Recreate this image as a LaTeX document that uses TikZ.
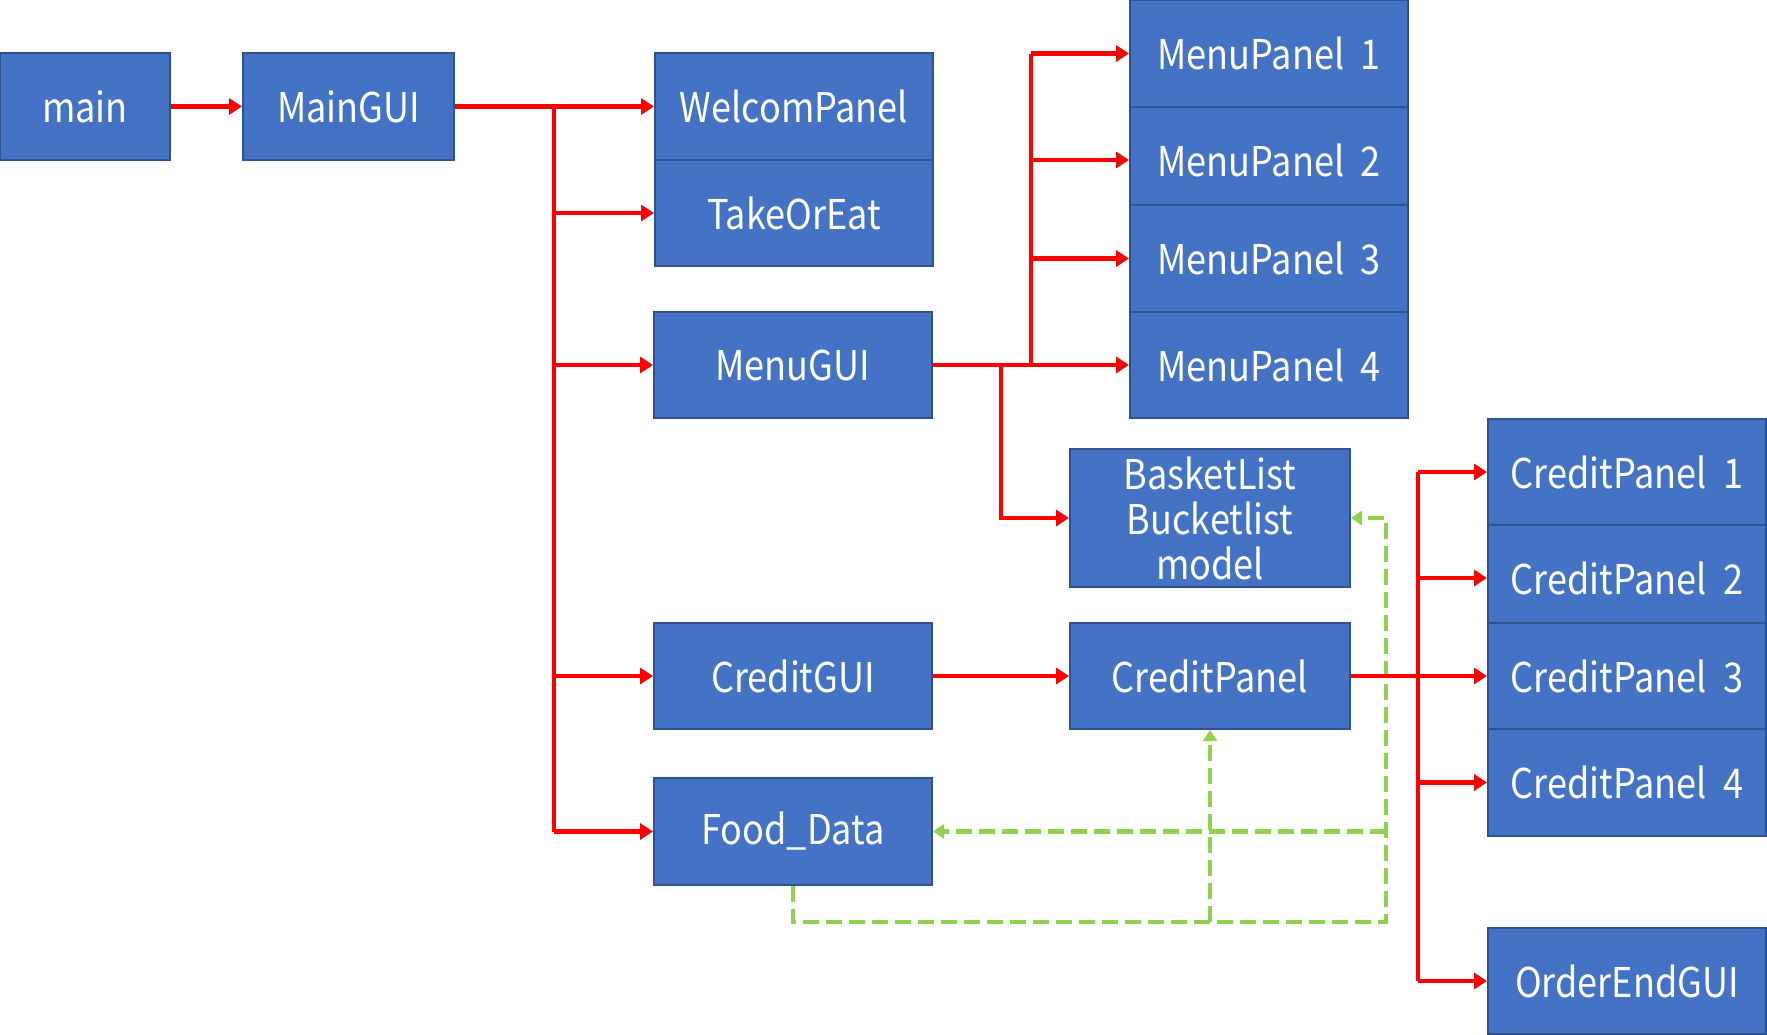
\documentclass[tikz,border=0pt]{standalone}
\usepackage{fontspec}
\setmainfont{Noto Sans CJK KR}[FakeStretch=0.88]
\usetikzlibrary{arrows.meta}
\definecolor{boxfill}{HTML}{4472C4}
\definecolor{boxborder}{HTML}{2F528F}
\definecolor{linkred}{HTML}{FF0000}
\definecolor{linkgreen}{HTML}{92D050}
\tikzset{
  box/.style={draw=boxborder, fill=boxfill, line width=1pt, text=white, inner sep=0pt,
    align=center, font=\fontsize{20.5}{22.5}\selectfont},
  sz/.style 2 args={minimum width=#1*0.5pt, minimum height=#2*0.5pt},
  redline/.style={draw=linkred, line width=2.2pt},
  redarrow/.style={redline, -{Triangle[length=6.5pt, width=8pt]}},
  greenarrow/.style={draw=linkgreen, line width=2.4pt, dash pattern=on 8pt off 3.5pt,
    -{Triangle[length=5.5pt, width=7pt]}},
}
\begin{document}
\begin{tikzpicture}[x=0.5pt, y=-0.5pt]
\useasboundingbox (0,0) rectangle (1767,1034);
% boxes
\node[box, sz={170}{107}] (main) at (85,106.5) {main};
\node[box, sz={211}{107}] (MainGUI) at (348.5,106.5) {MainGUI};
\node[box, sz={278}{107}] (Welcom) at (794,106.5) {WelcomPanel};
\node[box, sz={278}{106}] (TakeOrEat) at (794,213) {TakeOrEat};
\node[box, sz={278}{106}] (MenuGUI) at (793,365) {MenuGUI};
\node[box, sz={278}{107}] (MP1) at (1269,53.5) {MenuPanel~~1};
\node[box, sz={278}{106}] (MP2) at (1269,160) {MenuPanel~~2};
\node[box, sz={278}{107}] (MP3) at (1269,258.5) {MenuPanel~~3};
\node[box, sz={278}{106}] (MP4) at (1269,365) {MenuPanel~~4};
\node[box, sz={280}{138}] (Basket) at (1210,518) {BasketList\\Bucketlist\\model};
\node[box, sz={278}{106}] (CreditGUI) at (793,676) {CreditGUI};
\node[box, sz={280}{106}] (CreditPanel) at (1210,676) {CreditPanel};
\node[box, sz={278}{107}] (FoodData) at (793,831.5) {Food\_Data};
\node[box, sz={278}{106}] (CP1) at (1627,472) {CreditPanel~~1};
\node[box, sz={278}{106}] (CP2) at (1627,578) {CreditPanel~~2};
\node[box, sz={278}{106}] (CP3) at (1627,676) {CreditPanel~~3};
\node[box, sz={278}{107}] (CP4) at (1627,782.5) {CreditPanel~~4};
\node[box, sz={278}{106}] (OrderEnd) at (1627,981) {OrderEndGUI};
% bus coordinates
\coordinate (busA) at (554,106.5);
\coordinate (busM) at (1031,365);
\coordinate (busB) at (1001,365);
\coordinate (busC) at (1418,676);
\coordinate (gR) at (1386,922);
% green dashed connectors
\draw[greenarrow] (FoodData.south) |- (gR) |- (Basket.east);
\draw[greenarrow] (gR |- FoodData.east) -- (FoodData.east);
\draw[greenarrow] (CreditPanel.south |- gR) -- (CreditPanel.south);
% red connectors
\draw[redarrow] (main.east) -- (MainGUI.west);
\draw[redarrow] (MainGUI.east) -- (Welcom.west);
\draw[redline] (busA) -- (busA |- FoodData.west);
\draw[redarrow] (busA |- TakeOrEat.west) -- (TakeOrEat.west);
\draw[redarrow] (busA |- MenuGUI.west) -- (MenuGUI.west);
\draw[redarrow] (busA |- CreditGUI.west) -- (CreditGUI.west);
\draw[redarrow] (busA |- FoodData.west) -- (FoodData.west);
\draw[redarrow] (MenuGUI.east) -- (MP4.west);
\draw[redline] (busM) -- (busM |- MP1.west);
\draw[redarrow] (busM |- MP1.west) -- (MP1.west);
\draw[redarrow] (busM |- MP2.west) -- (MP2.west);
\draw[redarrow] (busM |- MP3.west) -- (MP3.west);
\draw[redarrow] (busB) |- (Basket.west);
\draw[redarrow] (CreditGUI.east) -- (CreditPanel.west);
\draw[redarrow] (CreditPanel.east) -- (CP3.west);
\draw[redline] (busC |- CP1.west) -- (busC |- OrderEnd.west);
\draw[redarrow] (busC |- CP1.west) -- (CP1.west);
\draw[redarrow] (busC |- CP2.west) -- (CP2.west);
\draw[redarrow] (busC |- CP4.west) -- (CP4.west);
\draw[redarrow] (busC |- OrderEnd.west) -- (OrderEnd.west);
\end{tikzpicture}
\end{document}
